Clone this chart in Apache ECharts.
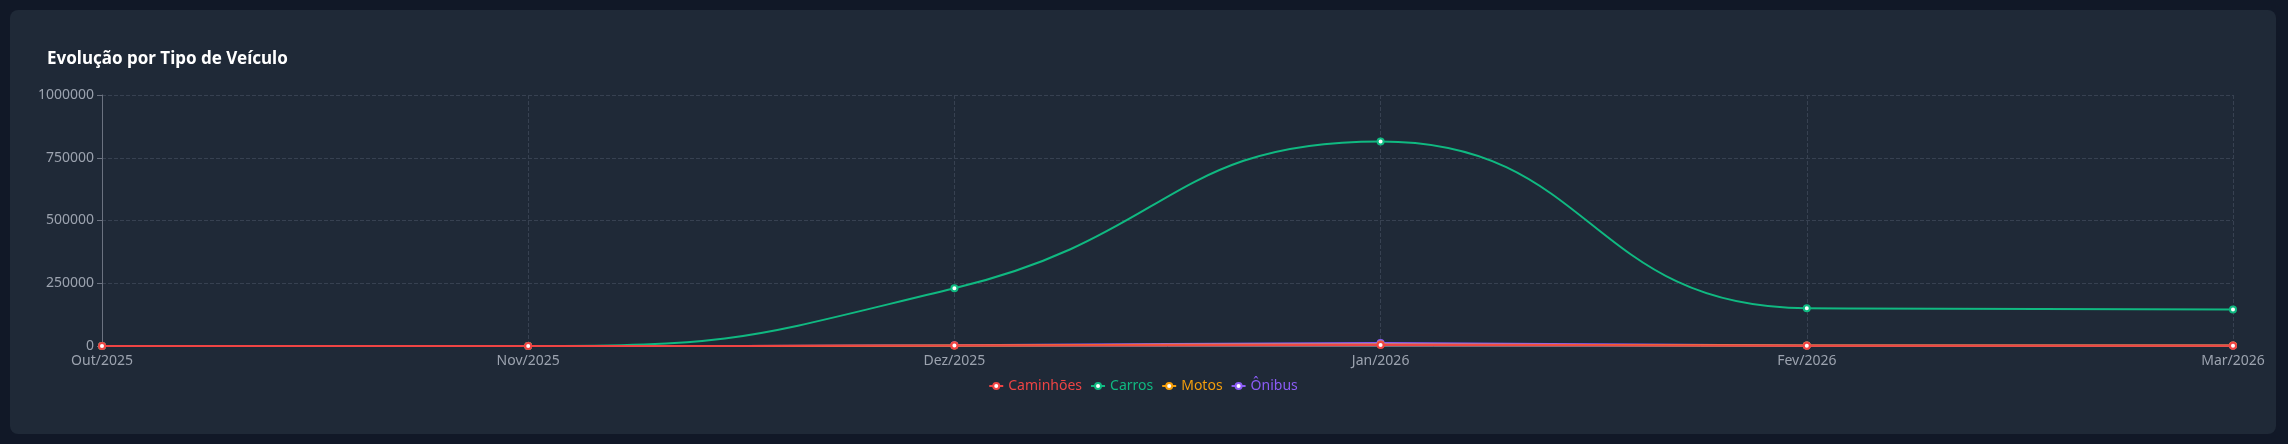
<!DOCTYPE html>
<html lang="pt">
  <head>
    <meta charset="UTF-8" />
    <title>Evolução por Tipo de Veículo</title>
    <script src="https://cdn.jsdelivr.net/npm/echarts@6/dist/echarts.min.js"></script>
    <style>
      body { margin: 0; background: #111827; }
      #card { position: absolute; left: 10px; top: 10px; width: 2266px; height: 424px; background: #1f2937; border-radius: 8px; }
      #main { width: 100%; height: 100%; }
    </style>
  </head>
  <body>
    <div id="card"><div id="main"></div></div>
    <script type="text/javascript">
      const months = ["Out/2025", "Nov/2025", "Dez/2025", "Jan/2026", "Fev/2026", "Mar/2026"];
      const caminhoes = [0, 0, 1500, 4000, 1000, 1000];
      const carros = [0, 0, 230000, 815000, 150000, 145000];
      const motos = [0, 0, 2000, 6000, 1500, 1500];
      const onibus = [0, 0, 2500, 12000, 2000, 2000];
      const names = ["Caminhões", "Carros", "Motos", "Ônibus"];
      const colors = ["#ef4444", "#10b981", "#f59e0b", "#8b5cf6"];
      const values = [caminhoes, carros, motos, onibus];

      let myChart = echarts.init(document.getElementById("main"));
      const font = "Noto Sans";
      let options = {
        backgroundColor: "transparent",
        textStyle: { fontFamily: font },
        title: {
          text: "Evolução por Tipo de Veículo",
          left: 32, top: 36,
          textStyle: { color: "#ffffff", fontSize: 17, fontWeight: "bold", fontFamily: font },
        },
        legend: {
          top: 364, itemWidth: 14, itemHeight: 8, itemGap: 8,
          icon: "path://M0,4h4a3,3 0 1 0 6,0a3,3 0 1 0 -6,0M10,4h4",
          data: names.map((n, i) => ({ name: n, textStyle: { color: colors[i] } })),
          textStyle: { fontSize: 14, fontFamily: font },
        },
        grid: { left: 92, right: 43, top: 85, bottom: 88 },
        xAxis: {
          type: "category", data: months, boundaryGap: false,
          axisLine: { lineStyle: { color: "#6b7280" } },
          axisTick: { show: false },
          axisLabel: { color: "#9ca3af", fontSize: 14, fontFamily: font },
          splitLine: { show: true, lineStyle: { color: "#374151", type: "dashed" } },
        },
        yAxis: {
          type: "value", min: 0, max: 1000000, interval: 250000,
          axisLine: { show: true, lineStyle: { color: "#6b7280" } },
          axisTick: { show: true },
          axisLabel: { color: "#9ca3af", fontSize: 14, fontFamily: font, formatter: (v) => String(v) },
          splitLine: { lineStyle: { color: "#374151", type: "dashed" } },
        },
        series: names.map((n, i) => ({
          name: n, type: "line", smooth: true, data: values[i],
          z: 10 - i,
          color: colors[i], symbol: "circle", symbolSize: 6,
          itemStyle: { color: "#ffffff", borderColor: colors[i], borderWidth: 2 },
          lineStyle: { width: 2, color: colors[i] },
        })),
      };
      myChart.setOption(options);
    </script>
  </body>
</html>
